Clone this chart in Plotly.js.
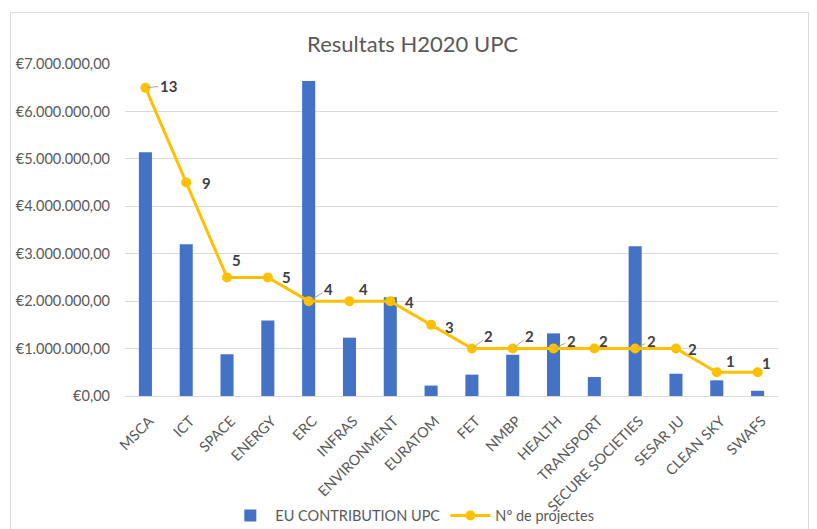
<!DOCTYPE html>
<html>
<head>
<meta charset="utf-8">
<script src="https://cdn.plot.ly/plotly-3.0.1.min.js"></script>
<style>
  html, body { margin: 0; padding: 0; background: #ffffff; overflow: hidden; }
  #frame { position: absolute; left: 10px; top: 12px; width: 799px; height: 540px; border: 1px solid #d9d9d9; box-sizing: border-box; }
  #chart { position: absolute; left: 0; top: 0; width: 817px; height: 529px; }
</style>
</head>
<body>
<div id="frame"></div>
<div id="chart"></div>
<script>
// ---- data ----
const categories = ["MSCA", "ICT", "SPACE", "ENERGY", "ERC", "INFRAS", "ENVIRONMENT", "EURATOM",
  "FET", "NMBP", "HEALTH", "TRANSPORT", "SECURE SOCIETIES", "SESAR JU", "CLEAN SKY", "SWAFS"];
const euContribution = [5140000, 3200000, 880000, 1590000, 6640000, 1230000, 2080000, 220000,
  450000, 870000, 1320000, 400000, 3160000, 470000, 330000, 110000];
const numProjects = [13, 9, 5, 5, 4, 4, 4, 3, 2, 2, 2, 2, 2, 2, 1, 1];
const barName = "EU CONTRIBUTION UPC";
const lineName = "Nº de projectes";
const titleText = "Resultats H2020 UPC";

// label placement (pixel offsets from each point) and leader-line flags
const labelDx = [23, 20, 9, 19, 20, 14, 19, 18, 17, 17, 18, 9, 16, 17, 14, 9];
const labelDy = [2, 0, 17, 0, 12, 12, -1, -2, 13, 13, 8, 8, 8, 0, 11, 9];
const leader = [true, false, false, false, true, false, false, false, true, true, true, false, true, false, false, false];

const font = "Lato, 'Open Sans', sans-serif";

const traces = [
  {
    type: "bar", name: barName, x: categories, y: euContribution,
    marker: { color: "#4472c4" }, hoverinfo: "x+y"
  },
  {
    type: "scatter", mode: "lines+markers", name: lineName, x: categories, y: numProjects,
    yaxis: "y2", cliponaxis: false,
    line: { color: "#ffc000", width: 3 },
    marker: { color: "#ffc000", size: 10, symbol: "circle" }
  }
];

const annotations = numProjects.map((v, i) => {
  const a = {
    x: categories[i], y: v, xref: "x", yref: "y2",
    text: "<b>" + v + "</b>",
    font: { family: font, size: 15, color: "#404040" },
    xanchor: "center", yanchor: "middle"
  };
  if (leader[i]) {
    a.showarrow = true;
    a.arrowhead = 0;
    a.arrowwidth = 1;
    a.arrowcolor = "#a6a6a6";
    a.ax = labelDx[i];
    a.ay = -labelDy[i];
    a.standoff = 2;
  } else {
    a.showarrow = false;
    a.xshift = labelDx[i];
    a.yshift = labelDy[i];
  }
  return a;
});

const layout = {
  width: 817, height: 529,
  paper_bgcolor: "rgba(0,0,0,0)", plot_bgcolor: "rgba(0,0,0,0)",
  margin: { l: 125, r: 39, t: 64, b: 133, autoexpand: false },
  separators: ",.",
  font: { family: font, color: "#595959", size: 14.5 },
  title: {
    text: titleText, x: 0.505, xanchor: "center", y: 0.917, yanchor: "middle",
    font: { family: font, size: 22, color: "#595959" }
  },
  bargap: 0.68,
  xaxis: {
    automargin: false, range: [-0.5, categories.length - 0.5],
    tickangle: -45, showgrid: false, showline: true, linecolor: "#d9d9d9", linewidth: 1,
    ticks: "", ticklabelstandoff: 10, ticklabelshift: 4,
    tickfont: { family: font, size: 14.5, color: "#595959" }, fixedrange: true
  },
  yaxis: {
    automargin: false,
    range: [0, 7000000], dtick: 1000000, tickprefix: "€", tickformat: ",.2f",
    showgrid: true, gridcolor: "#d9d9d9", gridwidth: 1, zeroline: false,
    ticks: "", ticklabelstandoff: 14,
    tickfont: { family: font, size: 14.5, color: "#595959" }, fixedrange: true
  },
  yaxis2: {
    range: [0, 14], overlaying: "y", side: "right", visible: false, showgrid: false, fixedrange: true
  },
  legend: {
    orientation: "h", x: 0.44, xanchor: "center", y: -0.36, yanchor: "middle",
    font: { family: font, size: 14.5, color: "#595959" }, itemwidth: 40
  },
  annotations: annotations,
  showlegend: true
};

Plotly.newPlot("chart", traces, layout, { displayModeBar: false, staticPlot: true });
</script>
</body>
</html>
